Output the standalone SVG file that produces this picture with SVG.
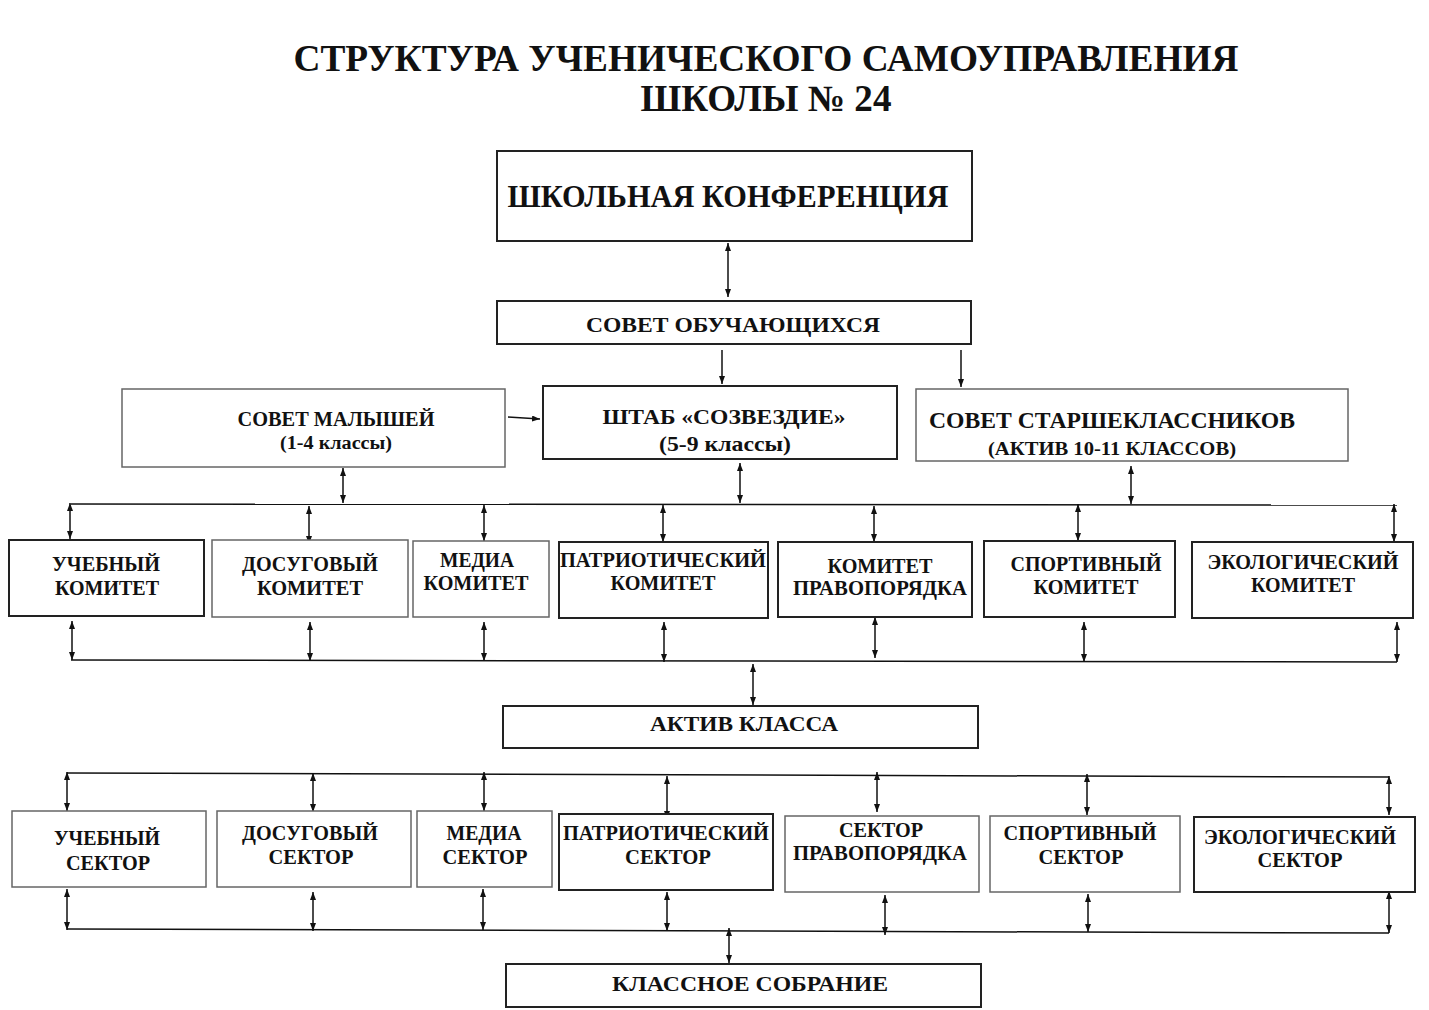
<svg xmlns="http://www.w3.org/2000/svg" width="1429" height="1010" viewBox="0 0 1429 1010">
<style>
text{font-family:"Liberation Serif","Times New Roman",serif;font-weight:bold;fill:#111;text-anchor:middle}
.box{fill:#fff;stroke:#222;stroke-width:2}
.gbox{fill:#fff;stroke:#666;stroke-width:1.5}
.t20{font-size:20px}
.t21{font-size:21px}
.t18{font-size:18px}
.c{stroke:#111;stroke-width:1.5;fill:none}
.a2{marker-start:url(#ah);marker-end:url(#ah)}
.a1{marker-end:url(#ah)}
</style>
<defs>
<marker id="ah" viewBox="0 0 8 6" refX="8" refY="3" markerWidth="8" markerHeight="6" markerUnits="userSpaceOnUse" orient="auto-start-reverse">
<path d="M0,0 L8,3 L0,6 z" fill="#111"/>
</marker>
</defs>
<rect width="1429" height="1010" fill="#fff"/>
<g id="title">
<text x="766" y="71" style="font-size:37px" textLength="945" lengthAdjust="spacingAndGlyphs">СТРУКТУРА УЧЕНИЧЕСКОГО САМОУПРАВЛЕНИЯ</text>
<text x="766" y="111" style="font-size:37px" textLength="251" lengthAdjust="spacingAndGlyphs">ШКОЛЫ № 24</text>
</g>
<g id="connectors">
<line class="c a2" x1="728" y1="243" x2="728" y2="297"/>
<line class="c a1" x1="722" y1="350" x2="722" y2="384"/>
<line class="c a1" x1="961" y1="350" x2="961" y2="387"/>
<line class="c a1" x1="508" y1="417" x2="540" y2="419"/>
<line class="c a2" x1="343" y1="468" x2="343" y2="503"/>
<line class="c a2" x1="740" y1="463" x2="740" y2="503"/>
<line class="c a2" x1="1131" y1="466" x2="1131" y2="504"/>
<line class="c" x1="71" y1="504" x2="1397" y2="505"/>
<line class="c a2" x1="70" y1="503" x2="70" y2="539"/>
<line class="c a2" x1="309" y1="506" x2="309" y2="544"/>
<line class="c a2" x1="484" y1="505" x2="484" y2="541"/>
<line class="c a2" x1="663" y1="505" x2="663" y2="542"/>
<line class="c a2" x1="874" y1="506" x2="874" y2="542"/>
<line class="c a2" x1="1078" y1="504" x2="1078" y2="541"/>
<line class="c a2" x1="1394" y1="504" x2="1394" y2="542"/>
<line class="c a2" x1="72" y1="621" x2="72" y2="660"/>
<line class="c a2" x1="310" y1="622" x2="310" y2="661"/>
<line class="c a2" x1="484" y1="622" x2="484" y2="661"/>
<line class="c a2" x1="664" y1="622" x2="664" y2="662"/>
<line class="c a2" x1="875" y1="617" x2="875" y2="658"/>
<line class="c a2" x1="1084" y1="622" x2="1084" y2="662"/>
<line class="c a2" x1="1397" y1="622" x2="1397" y2="662"/>
<line class="c" x1="71" y1="660" x2="1397" y2="662"/>
<line class="c a2" x1="753" y1="664" x2="753" y2="705"/>
<line class="c" x1="67" y1="773" x2="1389" y2="777"/>
<line class="c a2" x1="67" y1="772" x2="67" y2="811"/>
<line class="c a2" x1="313" y1="773" x2="313" y2="812"/>
<line class="c a2" x1="484" y1="772" x2="484" y2="811"/>
<line class="c a2" x1="667" y1="776" x2="667" y2="819"/>
<line class="c a2" x1="877" y1="772" x2="877" y2="812"/>
<line class="c a2" x1="1087" y1="774" x2="1087" y2="815"/>
<line class="c a2" x1="1389" y1="776" x2="1389" y2="815"/>
<line class="c a2" x1="67" y1="889" x2="67" y2="930"/>
<line class="c a2" x1="313" y1="892" x2="313" y2="931"/>
<line class="c a2" x1="483" y1="889" x2="483" y2="930"/>
<line class="c a2" x1="667" y1="892" x2="667" y2="931"/>
<line class="c a2" x1="885" y1="895" x2="885" y2="935"/>
<line class="c a2" x1="1088" y1="894" x2="1088" y2="932"/>
<line class="c a2" x1="1389" y1="891" x2="1389" y2="933"/>
<line class="c" x1="67" y1="929" x2="1389" y2="933"/>
<line class="c a2" x1="729" y1="928" x2="729" y2="963"/>
</g>
<g id="n-conf"><rect class="box" x="497" y="151" width="475" height="90"/>
<text x="728" y="207" style="font-size:31px" textLength="441" lengthAdjust="spacingAndGlyphs">ШКОЛЬНАЯ КОНФЕРЕНЦИЯ</text></g>
<g id="n-sovet"><rect class="box" x="497" y="301" width="474" height="43"/>
<text x="733" y="332" class="t21" textLength="294" lengthAdjust="spacingAndGlyphs">СОВЕТ ОБУЧАЮЩИХСЯ</text></g>
<g id="n-malysh"><rect class="gbox" x="122" y="389" width="383" height="78"/>
<text x="336" y="426" class="t20" textLength="197" lengthAdjust="spacingAndGlyphs">СОВЕТ МАЛЫШЕЙ</text>
<text x="336" y="449" class="t18" textLength="112" lengthAdjust="spacingAndGlyphs">(1-4 классы)</text></g>
<g id="n-shtab"><rect class="box" x="543" y="386" width="354" height="73"/>
<text x="724" y="424" class="t21" textLength="243" lengthAdjust="spacingAndGlyphs">ШТАБ «СОЗВЕЗДИЕ»</text>
<text x="725" y="451" class="t21" textLength="132" lengthAdjust="spacingAndGlyphs">(5-9 классы)</text></g>
<g id="n-starsh"><rect class="gbox" x="916" y="389" width="432" height="72"/>
<text x="1112" y="428" style="font-size:23px" textLength="366" lengthAdjust="spacingAndGlyphs">СОВЕТ СТАРШЕКЛАССНИКОВ</text>
<text x="1112" y="455" class="t18" textLength="248" lengthAdjust="spacingAndGlyphs">(АКТИВ 10-11 КЛАССОВ)</text></g>
<g id="n-k1"><rect class="box" x="9" y="540" width="195" height="76"/>
<text x="106" y="571" class="t20" textLength="108" lengthAdjust="spacingAndGlyphs">УЧЕБНЫЙ</text>
<text x="107" y="595" class="t20" textLength="104" lengthAdjust="spacingAndGlyphs">КОМИТЕТ</text></g>
<g id="n-k2"><rect class="gbox" x="212" y="540" width="196" height="77"/>
<text x="310" y="571" class="t20" textLength="136" lengthAdjust="spacingAndGlyphs">ДОСУГОВЫЙ</text>
<text x="310" y="595" class="t20" textLength="106" lengthAdjust="spacingAndGlyphs">КОМИТЕТ</text></g>
<g id="n-k3"><rect class="gbox" x="413" y="541" width="136" height="76"/>
<text x="477" y="567" class="t20" textLength="74" lengthAdjust="spacingAndGlyphs">МЕДИА</text>
<text x="476" y="590" class="t20" textLength="105" lengthAdjust="spacingAndGlyphs">КОМИТЕТ</text></g>
<g id="n-k4"><rect class="box" x="559" y="542" width="209" height="76"/>
<text x="663" y="567" class="t20" textLength="206" lengthAdjust="spacingAndGlyphs">ПАТРИОТИЧЕСКИЙ</text>
<text x="663" y="590" class="t20" textLength="105" lengthAdjust="spacingAndGlyphs">КОМИТЕТ</text></g>
<g id="n-k5"><rect class="box" x="778" y="542" width="194" height="75"/>
<text x="880" y="573" class="t20" textLength="105" lengthAdjust="spacingAndGlyphs">КОМИТЕТ</text>
<text x="880" y="595" class="t20" textLength="174" lengthAdjust="spacingAndGlyphs">ПРАВОПОРЯДКА</text></g>
<g id="n-k6"><rect class="box" x="984" y="541" width="191" height="76"/>
<text x="1086" y="571" class="t20" textLength="151" lengthAdjust="spacingAndGlyphs">СПОРТИВНЫЙ</text>
<text x="1086" y="594" class="t20" textLength="105" lengthAdjust="spacingAndGlyphs">КОМИТЕТ</text></g>
<g id="n-k7"><rect class="box" x="1192" y="542" width="221" height="76"/>
<text x="1303" y="569" class="t20" textLength="191" lengthAdjust="spacingAndGlyphs">ЭКОЛОГИЧЕСКИЙ</text>
<text x="1303" y="592" class="t20" textLength="104" lengthAdjust="spacingAndGlyphs">КОМИТЕТ</text></g>
<g id="n-aktiv"><rect class="box" x="503" y="706" width="475" height="42"/>
<text x="744" y="731" class="t21" textLength="188" lengthAdjust="spacingAndGlyphs">АКТИВ КЛАССА</text></g>
<g id="n-s1"><rect class="gbox" x="12" y="811" width="194" height="76"/>
<text x="107" y="845" class="t20" textLength="106" lengthAdjust="spacingAndGlyphs">УЧЕБНЫЙ</text>
<text x="108" y="870" class="t20" textLength="84" lengthAdjust="spacingAndGlyphs">СЕКТОР</text></g>
<g id="n-s2"><rect class="gbox" x="217" y="811" width="194" height="76"/>
<text x="310" y="840" class="t20" textLength="136" lengthAdjust="spacingAndGlyphs">ДОСУГОВЫЙ</text>
<text x="311" y="864" class="t20" textLength="85" lengthAdjust="spacingAndGlyphs">СЕКТОР</text></g>
<g id="n-s3"><rect class="gbox" x="417" y="811" width="135" height="76"/>
<text x="484" y="840" class="t20" textLength="75" lengthAdjust="spacingAndGlyphs">МЕДИА</text>
<text x="485" y="864" class="t20" textLength="85" lengthAdjust="spacingAndGlyphs">СЕКТОР</text></g>
<g id="n-s4"><rect class="box" x="559" y="814" width="214" height="76"/>
<text x="666" y="840" class="t20" textLength="206" lengthAdjust="spacingAndGlyphs">ПАТРИОТИЧЕСКИЙ</text>
<text x="668" y="864" class="t20" textLength="86" lengthAdjust="spacingAndGlyphs">СЕКТОР</text></g>
<g id="n-s5"><rect class="gbox" x="785" y="816" width="194" height="76"/>
<text x="881" y="837" class="t20" textLength="84" lengthAdjust="spacingAndGlyphs">СЕКТОР</text>
<text x="880" y="860" class="t20" textLength="174" lengthAdjust="spacingAndGlyphs">ПРАВОПОРЯДКА</text></g>
<g id="n-s6"><rect class="gbox" x="990" y="816" width="190" height="76"/>
<text x="1080" y="840" class="t20" textLength="153" lengthAdjust="spacingAndGlyphs">СПОРТИВНЫЙ</text>
<text x="1081" y="864" class="t20" textLength="85" lengthAdjust="spacingAndGlyphs">СЕКТОР</text></g>
<g id="n-s7"><rect class="box" x="1194" y="817" width="221" height="75"/>
<text x="1300" y="844" class="t20" textLength="192" lengthAdjust="spacingAndGlyphs">ЭКОЛОГИЧЕСКИЙ</text>
<text x="1300" y="867" class="t20" textLength="85" lengthAdjust="spacingAndGlyphs">СЕКТОР</text></g>
<g id="n-sobr"><rect class="box" x="506" y="964" width="475" height="43"/>
<text x="750" y="991" class="t21" textLength="276" lengthAdjust="spacingAndGlyphs">КЛАССНОЕ СОБРАНИЕ</text></g>
</svg>
